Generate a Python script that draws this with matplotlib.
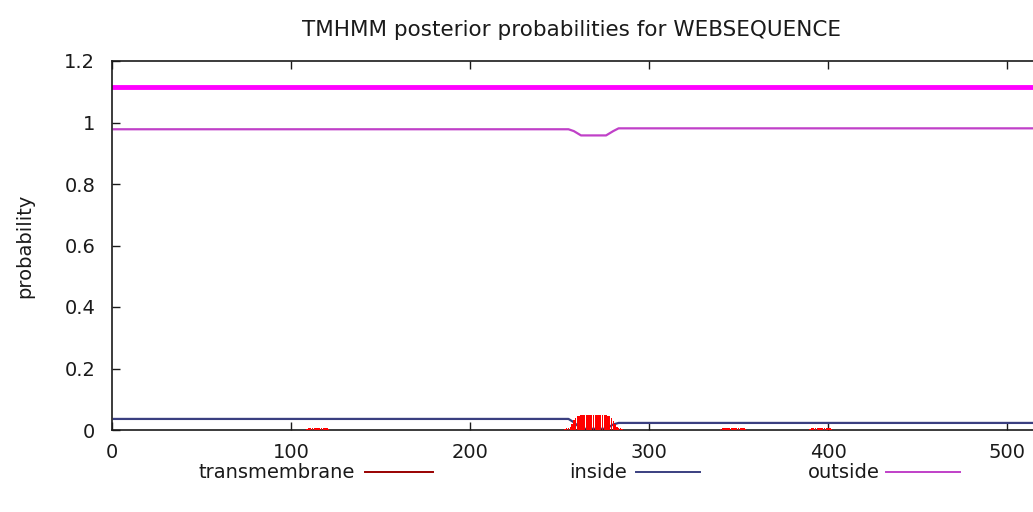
import matplotlib
matplotlib.use("Agg")
import matplotlib.pyplot as plt
from matplotlib.lines import Line2D

plt.rcParams['font.family'] = ['DejaVu Sans']

# ---- data ----
seq_len = 514.5
title = "TMHMM posterior probabilities for WEBSEQUENCE"

# outside probability (breakpoints)
outside_x = [1, 255, 258, 262, 276, 280, 283, 514.5]
outside_y = [0.978, 0.978, 0.972, 0.958, 0.958, 0.972, 0.981, 0.981]

# inside probability (breakpoints)
inside_x = [1, 255, 258, 262, 276, 280, 283, 514.5]
inside_y = [0.036, 0.036, 0.025, 0.004, 0.004, 0.018, 0.023, 0.023]

# transmembrane probability (per residue, nonzero stretches)
tm_x = [109, 110, 111, 112, 113, 114, 115, 116, 117, 118, 119, 120, 121,
        253, 254, 255, 256, 257, 258, 259, 260, 261, 262, 263, 264, 265, 266,
        267, 268, 269, 270, 271, 272, 273, 274, 275, 276, 277, 278, 279, 280,
        281, 282, 283, 284, 285,
        340, 341, 342, 343, 344, 345, 346, 347, 348, 349, 350, 351, 352, 353, 354,
        390, 391, 392, 393, 394, 395, 396, 397, 398, 399, 400, 401, 402]
tm_y = [0.004, 0.005, 0.006, 0.006, 0.006, 0.006, 0.006, 0.006, 0.006, 0.006, 0.006, 0.005, 0.004,
        0.003, 0.005, 0.007, 0.010, 0.020, 0.032, 0.040, 0.045, 0.047, 0.048, 0.048, 0.048, 0.048, 0.048,
        0.048, 0.048, 0.048, 0.048, 0.048, 0.048, 0.048, 0.048, 0.048, 0.048, 0.047, 0.045, 0.040, 0.030,
        0.018, 0.010, 0.007, 0.005, 0.003,
        0.004, 0.005, 0.006, 0.006, 0.006, 0.006, 0.006, 0.006, 0.006, 0.006, 0.006, 0.006, 0.006, 0.005, 0.004,
        0.004, 0.005, 0.006, 0.006, 0.007, 0.007, 0.007, 0.007, 0.007, 0.006, 0.006, 0.005, 0.004]

# predicted topology bar (outside over whole sequence)
topo_x = [1, 514.5]
topo_y = [1.115, 1.115]

xticks = [0, 100, 200, 300, 400, 500]
yticks = [0, 0.2, 0.4, 0.6, 0.8, 1.0, 1.2]
ytick_labels = ["0", "0.2", "0.4", "0.6", "0.8", "1", "1.2"]

legend_labels = ["transmembrane", "inside", "outside"]

# ---- styles ----
c_tm = "#ff0000"
c_tm_leg = "#990000"
c_in = "#3a3f80"
c_out = "#c040c8"
c_topo = "#ff00ff"
fs = 14
txt = '#1a1a1a'

W, H = 1033, 512
fig = plt.figure(figsize=(W / 100, H / 100), dpi=100)
ax = fig.add_axes([112 / W, (H - 430) / H, (W - 112) / W, 369 / H])

ax.bar(tm_x, tm_y, width=0.8, color=c_tm, linewidth=0, zorder=3)
ax.plot(inside_x, inside_y, color=c_in, lw=1.6, zorder=2)
ax.plot(outside_x, outside_y, color=c_out, lw=1.6, zorder=2)
ax.plot(topo_x, topo_y, color=c_topo, lw=3.5, zorder=2)

ax.set_xlim(0, seq_len)
ax.set_ylim(0, 1.2)
ax.set_xticks(xticks)
ax.set_yticks(yticks)
ax.set_yticklabels(ytick_labels)
ax.tick_params(direction='in', length=6, width=1, labelsize=fs, top=True, right=False,
               colors=txt, pad=12)
ax.tick_params(axis='x', pad=9)
ax.spines['right'].set_visible(False)
for s in ['left', 'bottom', 'top']:
    ax.spines[s].set_linewidth(1.2)
    ax.spines[s].set_color(txt)

ax.set_ylabel("probability", fontsize=fs, labelpad=22, color=txt)
fig.text(572 / W, 1 - 30 / H, title, ha='center', va='center', fontsize=15.5, color=txt)

# legend (text right-aligned before sample line, gnuplot style)
leg_text_x = [355, 627, 880]
leg_line_x = [(365, 433), (636, 700), (886, 960)]
leg_colors = [c_tm_leg, c_in, c_out]
ly = 1 - 472 / H
for lab, tx, (l0, l1), col in zip(legend_labels, leg_text_x, leg_line_x, leg_colors):
    fig.text(tx / W, ly, lab, ha='right', va='center', fontsize=fs, color=txt)
    fig.add_artist(Line2D([l0 / W, l1 / W], [ly, ly], color=col, lw=1.4,
                          transform=fig.transFigure))

fig.savefig("out.png", dpi=100)
